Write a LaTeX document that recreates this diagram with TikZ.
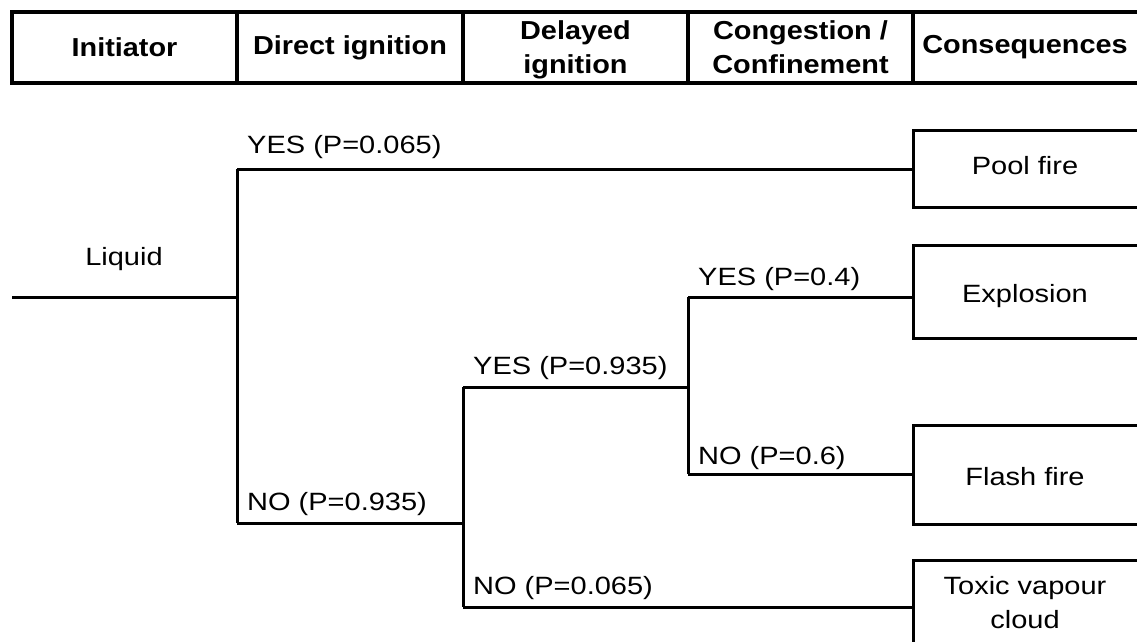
\documentclass[tikz,border=0pt]{standalone}
\usepackage{fontspec}
\setmainfont[FakeStretch=1.16]{Liberation Sans}
\newfontfamily\headfont[FakeStretch=1.11]{Liberation Sans}
\begin{document}
\begin{tikzpicture}[x=1pt,y=-1pt,
  every node/.style={font=\fontsize{25}{34}\selectfont, inner sep=0pt, align=center},
  head/.style={font=\headfont\fontsize{26}{34}\selectfont\bfseries},
  lbl/.style={anchor=base west},
  branch/.style={line width=3pt},
  frame/.style={line width=3.5pt},
  boxline/.style={line width=3pt, line join=miter}]
\useasboundingbox (0,0) rectangle (1137,641);
% header
\draw[frame] (1145,12) -- (12,12) -- (12,83) -- (1145,83);
\foreach \x in {237,463,688,913} \draw[frame] (\x,12) -- (\x,83);
\node[head] (h1) at (124.5,47.5) {Initiator};
\node[head] (h2) at (350,47.5) {Direct ignition};
\node[head] (h3) at (575.5,50) {Delayed\\ignition};
\node[head] (h4) at (800.5,47) {Congestion /\\Confinement};
\node[head] (h5) at (1025,47.5) {Consequences};
% junction coordinates
\coordinate (start) at (12,297);
\coordinate (j1) at (237,297);
\coordinate (j1t) at (237,169);
\coordinate (j1b) at (237,523);
\coordinate (j2) at (463,523);
\coordinate (j2t) at (463,387);
\coordinate (j2b) at (463,607);
\coordinate (j3) at (688,387);
\coordinate (j3t) at (688,297);
\coordinate (j3b) at (688,474);
\coordinate (ePool) at (913,169);
\coordinate (eExp) at (913,297);
\coordinate (eFlash) at (913,474);
\coordinate (eTox) at (913,607);
% consequence boxes
\draw[boxline] (1145,130) -- (913,130) -- (913,207) -- (1145,207);
\draw[boxline] (1145,245) -- (913,245) -- (913,338) -- (1145,338);
\draw[boxline] (1145,425) -- (913,425) -- (913,524) -- (1145,524);
\draw[boxline] (1145,560) -- (913,560) -- (913,650);
\node (pool) at (1025,166) {Pool fire};
\node (expl) at (1025,296) {Explosion};
\node (flash) at (1025,477) {Flash fire};
\node (tox) at (1025,603) {Toxic vapour\\cloud};
% initiator
\node (liq) at (124,259.5) {Liquid};
% branches
\draw[branch] (start) -- (j1);
\draw[branch] (j1t) -- (j1b);
\draw[branch] (j1t) -- (ePool);
\draw[branch] (j1b) -- (j2);
\draw[branch] (j2t) -- (j2b);
\draw[branch] (j2t) -- (j3);
\draw[branch] (j3t) -- (j3b);
\draw[branch] (j3t) -- (eExp);
\draw[branch] (j3b) -- (eFlash);
\draw[branch] (j2b) -- (eTox);
% labels
\node[lbl] (l1) at (247,153) {YES (P=0.065)};
\node[lbl] (l2) at (247,510) {NO (P=0.935)};
\node[lbl] (l3) at (473,374) {YES (P=0.935)};
\node[lbl] (l4) at (698,285) {YES (P=0.4)};
\node[lbl] (l5) at (698,464) {NO (P=0.6)};
\node[lbl] (l6) at (473,594) {NO (P=0.065)};
\end{tikzpicture}
\end{document}
